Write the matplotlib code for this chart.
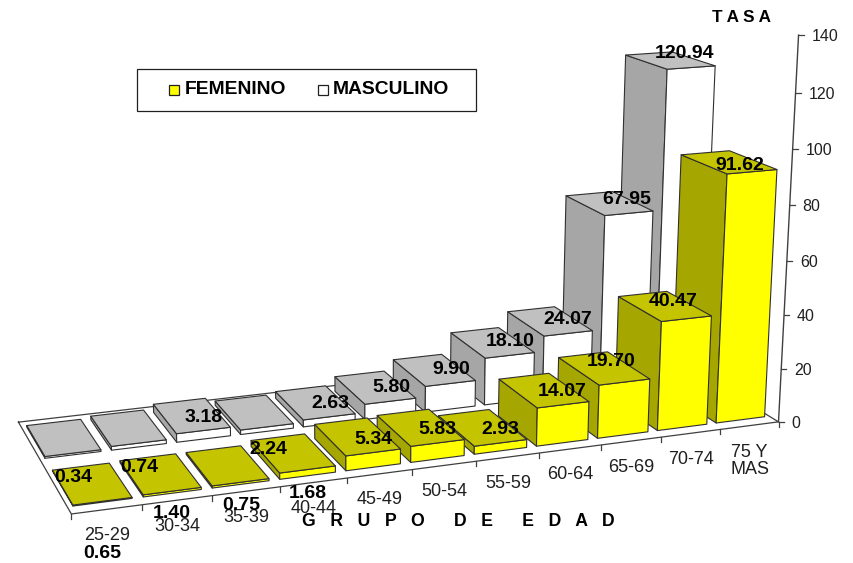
#!/usr/bin/env python3
import matplotlib

matplotlib.use("Agg")
import matplotlib.pyplot as plt
import numpy as np

plt.rcParams["font.family"] = ["Liberation Sans", "DejaVu Sans"]

categories = ["25-29", "30-34", "35-39", "40-44", "45-49", "50-54", "55-59",
              "60-64", "65-69", "70-74", "75 Y\nMAS"]
femenino = [0.34, 0.74, 0.75, 2.24, 5.34, 5.83, 2.93, 14.07, 19.70, 40.47, 91.62]
masculino = [0.65, 1.40, 3.18, 1.68, 2.63, 5.80, 9.90, 18.10, 24.07, 67.95, 120.94]
z_ticks = [0, 20, 40, 60, 80, 100, 120, 140]

# pixel anchors of the data labels, they do not sit on their bars in the original
fem_label_px = [(73, 478), (139, 468), (241, 506), (268, 449), (373, 440), (437, 429),
                (500, 430), (562, 392), (611, 362), (673, 302), (739.5, 166)]
mas_label_px = [(102, 554), (172, 513), (204, 417), (308, 494), (330, 403), (391, 387),
                (451, 369), (510, 342), (568, 319), (626.5, 199), (684.5, 53)]

M = 0.08  # gap left and right of a bar, in category widths
G = 0.14  # gap front and back of a bar, in series depths

# camera is fitted to points measured on the reference: (x, y, z) -> (u, v)
CAMERA_POINTS = [
    ((0, 0, 0), (71, 514)), ((1, 0, 0), (143, 505)), ((2, 0, 0), (212, 496)),
    ((3, 0, 0), (280, 487)), ((4, 0, 0), (347, 478)), ((5, 0, 0), (413, 469)),
    ((6, 0, 0), (477, 462)), ((7, 0, 0), (539, 453)), ((8, 0, 0), (601, 445)),
    ((9, 0, 0), (660, 437)), ((10, 0, 0), (719, 430)), ((11, 0, 0), (778, 423)),
    ((0, 2, 0), (18, 422)),
    ((11, 0, 20), (782.7, 369)), ((11, 0, 40), (786.7, 315)), ((11, 0, 60), (789, 261)),
    ((11, 0, 80), (790.5, 205.7)), ((11, 0, 100), (794, 150)), ((11, 0, 120), (795, 93)),
    ((11, 0, 140), (797, 35)),
    ((10 + M, G, 91.62), (725.7, 174)), ((11 - M, G, 91.62), (775, 170)),
    ((10 + M, 1 - G, 91.62), (681.7, 155)), ((11 - M, 1 - G, 91.62), (730, 151)),
    ((10 + M, G, 0), (717, 422)), ((11 - M, G, 0), (763, 417)),
    ((10 + M, 1 + G, 120.94), (667.7, 69)), ((11 - M, 1 + G, 120.94), (715, 65.7)),
    ((10 + M, 2 - G, 120.94), (627.3, 54.3)),
    ((9 + M, 1 + G, 67.95), (605.7, 215)), ((10 - M, 1 + G, 67.95), (653, 210.7)),
    ((9 + M, 2 - G, 67.95), (567.3, 196)), ((10 - M, 2 - G, 67.95), (606.7, 191.7)),
    ((9 + M, G, 40.47), (661, 320.7)), ((10 - M, G, 40.47), (710, 316)),
    ((9 + M, 1 - G, 40.47), (619.3, 296.7)), ((10 - M, 1 - G, 40.47), (668, 291)),
    ((9 + M, G, 0), (657.7, 430)), ((10 - M, G, 0), (706.7, 424)),
    ((7 + M, G, 14.07), (537.3, 406.7)), ((8 - M, G, 14.07), (587.7, 401.7)),
    ((7 + M, 1 - G, 14.07), (500.7, 379.3)), ((8 - M, 1 - G, 14.07), (549, 373)),
    ((0 + M, G, 0.34), (72, 505)), ((1 - M, G, 0.34), (132, 497)),
    ((0 + M, 1 - G, 0.34), (52, 469)), ((1 - M, 1 - G, 0.34), (110, 462)),
    ((0 + M, 1 + G, 0.65), (45, 457)), ((1 - M, 1 + G, 0.65), (100, 450)),
    ((0 + M, 2 - G, 0.65), (27, 427)), ((1 - M, 2 - G, 0.65), (82, 420)),
]


def fit_camera(points):
    rows, rhs = [], []
    for (x, y, z), (u, v) in points:
        rows.append([x, y, z, 1, 0, 0, 0, 0, -u * x, -u * y, -u * z])
        rows.append([0, 0, 0, 0, x, y, z, 1, -v * x, -v * y, -v * z])
        rhs += [u, v]
    sol = np.linalg.lstsq(np.array(rows, float), np.array(rhs, float), rcond=None)[0]
    return np.append(sol, 1.0).reshape(3, 4)


CAM = fit_camera(CAMERA_POINTS)


def proj(x, y, z):
    u, v, w = CAM @ np.array([x, y, z, 1.0])
    return u / w, v / w


def draw_bar(ax, i, y0, y1, h, front, top, side):
    x0, x1 = i + M, i + 1 - M
    faces = [
        ([(x0, y1, 0), (x0, y0, 0), (x0, y0, h), (x0, y1, h)], side),
        ([(x0, y0, 0), (x1, y0, 0), (x1, y0, h), (x0, y0, h)], front),
        ([(x0, y0, h), (x1, y0, h), (x1, y1, h), (x0, y1, h)], top),
    ]
    for corners, color in faces:
        ax.fill([proj(*c)[0] for c in corners], [proj(*c)[1] for c in corners],
                facecolor=color, edgecolor="#303030", linewidth=0.8, joinstyle="round",
                zorder=2)


fig = plt.figure(figsize=(8.54, 5.63), dpi=100)
ax = fig.add_axes([0, 0, 1, 1])
ax.set_xlim(0, 854)
ax.set_ylim(563, 0)
ax.axis("off")

n = len(categories)

# floor, below the bars
floor = [proj(0, 2, 0), proj(0, 0, 0), proj(n, 0, 0), proj(n, 2, 0), proj(0, 2, 0)]
ax.plot(*zip(*floor), color="#404040", lw=0.9, zorder=1)

# back row first and right to left, so nearer bars cover the others
for i in range(n - 1, -1, -1):
    draw_bar(ax, i, 1 + G, 2 - G, masculino[i], "#FFFFFF", "#C0C0C0", "#A6A6A6")
for i in range(n - 1, -1, -1):
    draw_bar(ax, i, G, 1 - G, femenino[i], "#FFFF00", "#C4C400", "#A6A600")

# category ticks and labels
for i in range(n + 1):
    u, v = proj(i, 0, 0)
    ax.plot([u, u], [v, v + 5], color="#404040", lw=0.9, zorder=1)
for i, label in enumerate(categories):
    u, v = proj(i + 0.5, 0, 0)
    off = 35.5 if "\n" in label else 26
    ax.text(u, v + off, label, ha="center", va="center", fontsize=13, color="#202020",
            linespacing=1.0, zorder=3)

# value axis
ax.plot(*zip(proj(n, 0, 0), proj(n, 0, z_ticks[-1])), color="#404040", lw=1.0, zorder=1)
for t in z_ticks:
    u, v = proj(n, 0, t)
    ax.plot([u, u + 5], [v, v], color="#404040", lw=0.9, zorder=1)
    ax.text(u + 13, v + 1.5, str(t), ha="left", va="center", fontsize=11.5, color="#202020", zorder=3)

# data labels
for val, (u, v) in zip(femenino, fem_label_px):
    ax.text(u, v, f"{val:.2f}", ha="center", va="center", fontsize=14, fontweight="bold", zorder=4)
for val, (u, v) in zip(masculino, mas_label_px):
    ax.text(u, v, f"{val:.2f}", ha="center", va="center", fontsize=14, fontweight="bold", zorder=4)

ax.text(741.5, 17, "T A S A", ha="center", va="center", fontsize=12.3, fontweight="bold")
ax.text(458, 522, "G   R   U   P   O      D   E      E   D   A   D", ha="center", va="center",
        fontsize=12.7, fontweight="bold", zorder=4)

# legend
ax.add_patch(plt.Rectangle((137, 68.5), 339, 42, facecolor="white", edgecolor="#202020", lw=0.9))
ax.add_patch(plt.Rectangle((169, 85), 10, 10, facecolor="#FFFF00", edgecolor="#202020", lw=0.9))
ax.add_patch(plt.Rectangle((318, 85), 10, 10, facecolor="#FFFFFF", edgecolor="#202020", lw=0.9))
ax.text(184.5, 90, "FEMENINO", ha="left", va="center", fontsize=13.9, fontweight="bold")
ax.text(333, 90, "MASCULINO", ha="left", va="center", fontsize=13.9, fontweight="bold")

fig.savefig("out.png", dpi=100)
